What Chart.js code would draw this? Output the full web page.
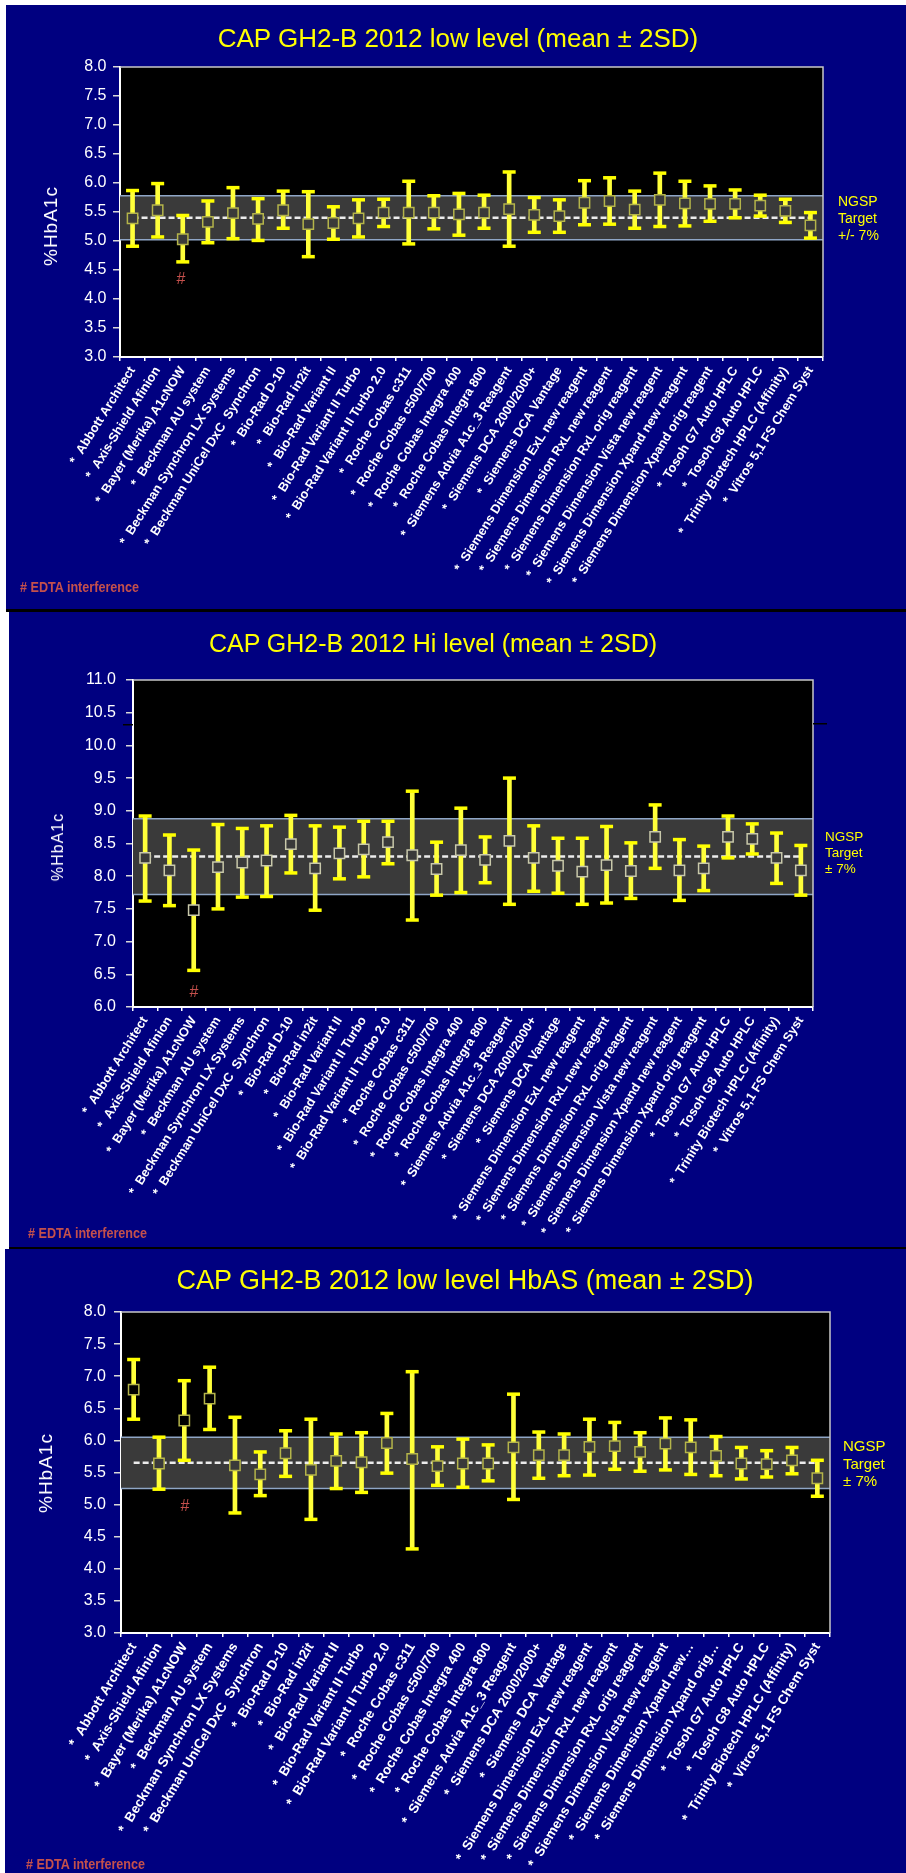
<!DOCTYPE html>
<html>
<head>
<meta charset="utf-8">
<title>CAP GH2-B 2012</title>
<script src="https://cdn.jsdelivr.net/npm/chart.js@4.4.1/dist/chart.umd.min.js"></script>
<style>
  html, body { margin: 0; padding: 0; background: #fff; }
  body { width: 906px; height: 1873px; position: relative; overflow: hidden;
         font-family: 'Liberation Sans', Arial, sans-serif; }
  .panel { position: absolute; background: #000080; overflow: hidden; }
  .panel canvas { position: absolute; left: 0; top: 0; }
  .title { position: absolute; color: #ffff00; white-space: nowrap; transform: translate(-50%, -50%); }
  .ylab { position: absolute; color: #fff; white-space: nowrap; transform: translate(-50%, -50%) rotate(-90deg); }
  .ngsp { position: absolute; color: #ffff00; white-space: nowrap; }
  .hash { position: absolute; color: #c4504c; font-size: 16px; transform: translate(-50%, -50%); }
  .note { position: absolute; color: #c4504c; font-weight: bold; font-size: 15px; white-space: nowrap;
          transform: translateY(-50%) scaleX(0.84); transform-origin: left center; }
</style>
</head>
<body>

<div class="panel" id="p1" style="left:6px;top:5px;width:900px;height:604px;border-bottom:3px solid #000;">
  <canvas id="c1" width="900" height="604"></canvas>
  <div class="title" style="left:452px;top:33px;font-size:26px;">CAP GH2-B 2012 low level (mean ± 2SD)</div>
  <div class="ylab" style="left:45px;top:221px;font-size:19px;letter-spacing:1px;">%HbA1c</div>
  <div class="ngsp" style="left:832px;top:188px;font-size:14px;line-height:17px;">NGSP<br>Target<br>+/- 7%</div>
  <div class="hash" style="left:175px;top:274px;">#</div>
  <div class="note" style="left:14px;top:581px;"># EDTA interference</div>
</div>

<div class="panel" id="p2" style="left:9px;top:612px;width:897px;height:635px;border-bottom:2px solid #000;">
  <canvas id="c2" width="897" height="635"></canvas>
  <div class="title" style="left:424px;top:31px;font-size:25px;">CAP GH2-B 2012 Hi level (mean ± 2SD)</div>
  <div class="ylab" style="left:49px;top:235px;font-size:16px;letter-spacing:1px;">%HbA1c</div>
  <div class="ngsp" style="left:816px;top:217px;font-size:13.5px;line-height:16px;">NGSP<br>Target<br>± 7%</div>
  <div class="hash" style="left:185px;top:380px;">#</div>
  <div class="note" style="left:19px;top:620px;"># EDTA interference</div>
</div>

<div class="panel" id="p3" style="left:5px;top:1249px;width:901px;height:624px;">
  <canvas id="c3" width="901" height="624"></canvas>
  <div class="title" style="left:460px;top:31px;font-size:27px;">CAP GH2-B 2012 low level HbAS (mean ± 2SD)</div>
  <div class="ylab" style="left:41px;top:224px;font-size:19px;letter-spacing:1px;">%HbA1c</div>
  <div class="ngsp" style="left:838px;top:188px;font-size:15px;line-height:17.5px;">NGSP<br>Target<br>± 7%</div>
  <div class="hash" style="left:180px;top:257px;">#</div>
  <div class="note" style="left:21px;top:614px;"># EDTA interference</div>
</div>

<script>
/* ---- categories ---- */
const instruments = [
  'Abbott Architect', 'Axis-Shield Afinion', 'Bayer (Merika) A1cNOW', 'Beckman AU system',
  'Beckman Synchron LX Systems', 'Beckman UniCel DxC  Synchron', 'Bio-Rad D-10', 'Bio-Rad in2it',
  'Bio-Rad Variant II', 'Bio-Rad Variant II Turbo', 'Bio-Rad Variant II Turbo 2.0', 'Roche Cobas c311',
  'Roche Cobas c500/700', 'Roche Cobas Integra 400', 'Roche Cobas Integra 800', 'Siemens Advia A1c_3 Reagent',
  'Siemens DCA 2000/2000+', 'Siemens DCA Vantage', 'Siemens Dimension ExL new reagent',
  'Siemens Dimension RxL new reagent', 'Siemens Dimension RxL orig reagent', 'Siemens Dimension Vista new reagent',
  'Siemens Dimension Xpand new reagent', 'Siemens Dimension Xpand orig reagent', 'Tosoh G7 Auto HPLC',
  'Tosoh G8 Auto HPLC', 'Trinity Biotech HPLC (Affinity)', 'Vitros 5,1 FS Chem Syst'
];
const instrumentsHbAS = instruments.map(n => n
  .replace('Xpand new reagent', 'Xpand new…')
  .replace('Xpand orig reagent', 'Xpand orig…'));

/* ---- low level ---- */
const lowMean  = [5.39, 5.53, 5.03, 5.33, 5.48, 5.38, 5.53, 5.29, 5.31, 5.39, 5.49, 5.49, 5.49, 5.46,
                  5.49, 5.55, 5.45, 5.43, 5.66, 5.69, 5.54, 5.71, 5.65, 5.64, 5.64, 5.61, 5.52, 5.27];
const lowMinus = [4.91, 5.07, 4.64, 4.97, 5.04, 5.01, 5.22, 4.73, 5.03, 5.07, 5.25, 4.95, 5.21, 5.10,
                  5.22, 4.91, 5.15, 5.15, 5.28, 5.29, 5.22, 5.25, 5.26, 5.34, 5.40, 5.43, 5.32, 5.05];
const lowPlus  = [5.87, 5.99, 5.44, 5.69, 5.92, 5.73, 5.86, 5.85, 5.59, 5.71, 5.72, 6.03, 5.78, 5.82,
                  5.79, 6.19, 5.75, 5.71, 6.04, 6.09, 5.86, 6.17, 6.03, 5.95, 5.88, 5.79, 5.72, 5.49];
const lowTarget = 5.4;
const lowBand = [5.02, 5.78];
const lowTicks = [3.0, 3.5, 4.0, 4.5, 5.0, 5.5, 6.0, 6.5, 7.0, 7.5, 8.0];

/* ---- hi level ---- */
const hiMean  = [8.28, 8.09, 7.48, 8.14, 8.21, 8.24, 8.49, 8.12, 8.35, 8.41, 8.52, 8.32, 8.11, 8.40,
                 8.25, 8.54, 8.28, 8.16, 8.07, 8.17, 8.08, 8.60, 8.09, 8.12, 8.60, 8.57, 8.28, 8.09];
const hiMinus = [7.62, 7.55, 6.56, 7.50, 7.68, 7.69, 8.05, 7.48, 7.96, 7.99, 8.19, 7.33, 7.71, 7.75,
                 7.90, 7.57, 7.77, 7.74, 7.57, 7.59, 7.66, 8.12, 7.63, 7.78, 8.28, 8.34, 7.89, 7.71];
const hiPlus  = [8.92, 8.63, 8.40, 8.79, 8.73, 8.77, 8.93, 8.77, 8.75, 8.84, 8.84, 9.30, 8.52, 9.04,
                 8.60, 9.50, 8.77, 8.58, 8.58, 8.76, 8.51, 9.09, 8.56, 8.46, 8.92, 8.80, 8.66, 8.47];
const hiTarget = 8.3;
const hiBand = [7.72, 8.88];
const hiTicks = [6.0, 6.5, 7.0, 7.5, 8.0, 8.5, 9.0, 9.5, 10.0, 10.5, 11.0];

/* ---- low level HbAS ---- */
const hbasMean  = [6.79, 5.64, 6.31, 6.65, 5.61, 5.47, 5.80, 5.54, 5.68, 5.66, 5.96, 5.71, 5.60, 5.64,
                   5.64, 5.89, 5.77, 5.77, 5.90, 5.91, 5.82, 5.95, 5.89, 5.76, 5.64, 5.63, 5.69, 5.41];
const hbasMinus = [6.33, 5.24, 5.69, 6.17, 4.87, 5.14, 5.44, 4.77, 5.25, 5.19, 5.49, 4.31, 5.30, 5.27,
                   5.37, 5.08, 5.41, 5.45, 5.46, 5.55, 5.52, 5.54, 5.47, 5.45, 5.40, 5.43, 5.48, 5.13];
const hbasPlus  = [7.26, 6.05, 6.93, 7.14, 6.36, 5.82, 6.15, 6.33, 6.10, 6.12, 6.42, 7.07, 5.90, 6.02,
                   5.93, 6.72, 6.13, 6.10, 6.33, 6.28, 6.12, 6.35, 6.32, 6.06, 5.89, 5.84, 5.89, 5.69];
const hbasTarget = 5.65;
const hbasBand = [5.25, 6.05];
const hbasTicks = lowTicks;

Chart.defaults.font.family = "'Liberation Sans', Arial, sans-serif";

/* black plot area, grey NGSP band, light frame on top/right */
const ngspBand = {
  id: 'ngspBand',
  beforeDraw(chart) {
    const { ctx, chartArea: a } = chart;
    ctx.save();
    ctx.fillStyle = '#000';
    ctx.fillRect(a.left, a.top, a.right - a.left, a.bottom - a.top);
    ctx.restore();
  },
  beforeDatasetsDraw(chart, args, opts) {
    const { ctx, chartArea: a, scales: { y } } = chart;
    const top = y.getPixelForValue(opts.range[1]);
    const bot = y.getPixelForValue(opts.range[0]);
    ctx.save();
    ctx.fillStyle = '#3a3a3a';
    ctx.fillRect(a.left, top, a.right - a.left, bot - top);
    ctx.strokeStyle = '#8fa6c6';
    ctx.lineWidth = 1.5;
    ctx.beginPath();
    ctx.moveTo(a.left, top); ctx.lineTo(a.right, top);
    ctx.moveTo(a.left, bot); ctx.lineTo(a.right, bot);
    ctx.stroke();
    ctx.restore();
  },
  afterDraw(chart, args, opts) {
    const { ctx, chartArea: a, scales: { y } } = chart;
    ctx.save();
    ctx.strokeStyle = '#c8c8c8';
    ctx.lineWidth = 1.5;
    ctx.beginPath();
    ctx.moveTo(a.left, a.top); ctx.lineTo(a.right, a.top); ctx.lineTo(a.right, a.bottom);
    ctx.stroke();
    if (opts.breakAt) {
      const py = y.getPixelForValue(opts.breakAt);
      ctx.strokeStyle = '#000';
      ctx.lineWidth = 1.5;
      ctx.beginPath();
      ctx.moveTo(a.left - 10, py + 1); ctx.lineTo(a.left, py + 1);
      ctx.moveTo(a.right, py); ctx.lineTo(a.right + 14, py);
      ctx.stroke();
    }
    ctx.restore();
  }
};

function drawPanel(cfg) {
  const inBand = v => v >= cfg.band[0] && v <= cfg.band[1];
  new Chart(document.getElementById(cfg.id), {
    type: 'bar',
    data: {
      labels: cfg.labels.map(n => '*  ' + n),
      datasets: [
        {
          type: 'line', data: cfg.mean, showLine: false, order: 0,
          pointStyle: 'rect', pointRadius: 7.3, pointBorderWidth: 1.5,
          pointBorderColor: cfg.boxBorder,
          pointBackgroundColor: c => inBand(c.raw) ? '#3a3a3a' : '#000'
        },
        {
          type: 'line', data: cfg.plus, showLine: false, order: 1,
          pointStyle: 'line', pointRadius: 6.5, pointBorderWidth: 3.5, pointBorderColor: '#ffff00'
        },
        {
          type: 'line', data: cfg.minus, showLine: false, order: 1,
          pointStyle: 'line', pointRadius: 6.5, pointBorderWidth: 3.5, pointBorderColor: '#ffff00'
        },
        {
          type: 'bar', data: cfg.minus.map((v, i) => [v, cfg.plus[i]]), order: 2,
          backgroundColor: '#ffff3a', borderWidth: 0, barThickness: 4
        },
        {
          type: 'line', data: cfg.labels.map(() => cfg.target), order: 3,
          borderColor: '#ececec', borderWidth: 2.5, borderDash: [6, 3], pointRadius: 0
        }
      ]
    },
    options: {
      responsive: false,
      animation: false,
      events: [],
      layout: { padding: cfg.pad },
      plugins: {
        legend: { display: false },
        tooltip: { enabled: false },
        ngspBand: { range: cfg.band, breakAt: cfg.breakAt }
      },
      scales: {
        x: {
          offset: true,
          grid: { offset: true, drawOnChartArea: false, tickLength: 4, color: '#ffffff', lineWidth: 1.5 },
          border: { color: '#ffffff', width: 2 },
          ticks: {
            autoSkip: false, minRotation: cfg.rot, maxRotation: cfg.rot, padding: 3,
            color: '#ffffff', font: { size: cfg.labelFont, weight: 'bold' }
          },
          afterFit: s => { s.height = cfg.xHeight; }
        },
        y: {
          min: cfg.ticks[0], max: cfg.ticks[cfg.ticks.length - 1],
          grid: { drawOnChartArea: false, tickLength: 7, color: '#d8d8d8', lineWidth: 1.5 },
          border: { color: '#ffffff', width: 2 },
          ticks: {
            padding: cfg.yPad, color: '#ffffff', font: { size: cfg.tickFont },
            callback: v => Number(v).toFixed(1)
          },
          afterBuildTicks: s => { s.ticks = cfg.ticks.map(v => ({ value: v })); },
          afterFit: s => { s.width = cfg.yWidth; }
        }
      }
    },
    plugins: [ngspBand]
  });
}

window.addEventListener('load', () => {
  drawPanel({
    id: 'c1', labels: instruments, mean: lowMean, minus: lowMinus, plus: lowPlus,
    target: lowTarget, band: lowBand, ticks: lowTicks,
    pad: { left: 0, right: 83, top: 62, bottom: 0 }, yWidth: 114, xHeight: 252,
    yPad: 6.5, tickFont: 16, labelFont: 12.8, rot: 58, boxBorder: '#b4b44a'
  });
  drawPanel({
    id: 'c2', labels: instruments, mean: hiMean, minus: hiMinus, plus: hiPlus,
    target: hiTarget, band: hiBand, ticks: hiTicks, breakAt: 10.33,
    pad: { left: 0, right: 93, top: 68, bottom: 0 }, yWidth: 124, xHeight: 240,
    yPad: 10, tickFont: 16, labelFont: 12.8, rot: 58, boxBorder: '#c8c8aa'
  });
  drawPanel({
    id: 'c3', labels: instrumentsHbAS, mean: hbasMean, minus: hbasMinus, plus: hbasPlus,
    target: hbasTarget, band: hbasBand, ticks: hbasTicks,
    pad: { left: 0, right: 76, top: 63, bottom: 0 }, yWidth: 116, xHeight: 240,
    yPad: 8, tickFont: 16, labelFont: 13.5, rot: 59, boxBorder: '#b4b44a'
  });
});
</script>
</body>
</html>
